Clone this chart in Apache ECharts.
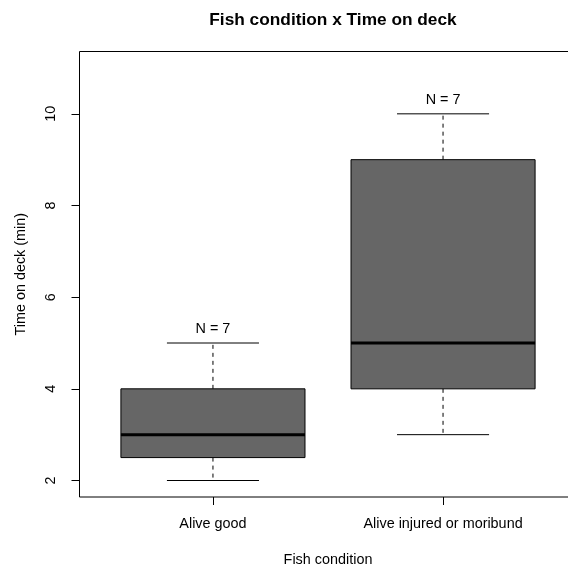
<!DOCTYPE html>
<html>
<head>
<meta charset="utf-8">
<script src="https://cdn.jsdelivr.net/npm/echarts@6/dist/echarts.min.js"></script>
<style>html,body{margin:0;padding:0;background:#fff}#c{width:568px;height:569px}</style>
</head>
<body>
<div id="c"></div>
<script>
const categories = ['Alive good', 'Alive injured or moribund'];
const whiskerLow = [2, 3];
const q1 = [2.5, 4];
const median = [3, 5];
const q3 = [4, 9];
const whiskerHigh = [5, 10];
const nLabels = ['N = 7', 'N = 7'];
const yTicks = [2, 4, 6, 8, 10];
const xTicks = [1, 2];

const font = 'Liberation Sans, Arial, sans-serif';
const data = categories.map((c, i) => [i + 1, whiskerLow[i], q1[i], median[i], q3[i], whiskerHigh[i]]);

const chart = echarts.init(document.getElementById('c'));
chart.setOption({
  backgroundColor: '#fff',
  animation: false,
  title: {
    text: 'Fish condition x Time on deck',
    left: 328, top: 7, textAlign: 'center',
    textStyle: {fontFamily: font, fontSize: 17.3, fontWeight: 'bold', color: '#000'}
  },
  grid: {left: 79.5, top: 51.5, width: 497, height: 445.5, show: true, borderColor: '#000', borderWidth: 1, backgroundColor: 'transparent', outerBoundsMode: 'none', containLabel: false},
  xAxis: {
    type: 'value', min: 0.42, max: 2.58,
    splitLine: {show: false},
    axisLine: {show: false},
    axisTick: {show: true, length: 8, lineStyle: {color: '#000'}, customValues: xTicks},
    axisLabel: {customValues: xTicks, formatter: v => categories[Math.round(v) - 1] || '', fontFamily: font, fontSize: 14.4, color: '#000', margin: 20},
    name: 'Fish condition', nameLocation: 'middle', nameGap: 56,
    nameTextStyle: {fontFamily: font, fontSize: 14.4, color: '#000'}
  },
  yAxis: {
    type: 'value', min: 1.64, max: 11.36,
    splitLine: {show: false},
    axisLine: {show: false},
    axisTick: {show: true, length: 8, lineStyle: {color: '#000'}, customValues: yTicks},
    axisLabel: {customValues: yTicks, rotate: 90, fontFamily: font, fontSize: 14.4, color: '#000', margin: 21, align: 'center', verticalAlign: 'bottom'},
    name: 'Time on deck (min)', nameLocation: 'middle', nameGap: 51, nameRotate: 90,
    nameTextStyle: {fontFamily: font, fontSize: 14.4, color: '#000'}
  },
  series: [{
    type: 'custom',
    data: data,
    clip: false,
    renderItem: function (params, api) {
      const x = api.value(0);
      const lo = api.value(1), a = api.value(2), m = api.value(3), b = api.value(4), hi = api.value(5);
      const bl = api.coord([x - 0.4, a]);
      const tr = api.coord([x + 0.4, b]);
      const ml = api.coord([x - 0.4, m]);
      const mr = api.coord([x + 0.4, m]);
      const cLo = api.coord([x, lo]);
      const cHi = api.coord([x, hi]);
      const cA = api.coord([x, a]);
      const cB = api.coord([x, b]);
      const sL = api.coord([x - 0.2, lo])[0];
      const sR = api.coord([x + 0.2, lo])[0];
      const lineStyle = {stroke: '#000', lineWidth: 1};
      return {
        type: 'group',
        children: [
          {type: 'line', shape: {x1: cB[0], y1: cB[1], x2: cHi[0], y2: cHi[1]}, style: {stroke: '#000', lineWidth: 1, lineDash: [4, 4]}},
          {type: 'line', shape: {x1: cA[0], y1: cA[1], x2: cLo[0], y2: cLo[1]}, style: {stroke: '#000', lineWidth: 1, lineDash: [4, 4]}},
          {type: 'line', shape: {x1: sL, y1: cHi[1], x2: sR, y2: cHi[1]}, style: lineStyle},
          {type: 'line', shape: {x1: sL, y1: cLo[1], x2: sR, y2: cLo[1]}, style: lineStyle},
          {type: 'rect', shape: {x: bl[0], y: tr[1], width: tr[0] - bl[0], height: bl[1] - tr[1]}, style: {fill: '#666666', stroke: '#000', lineWidth: 1}},
          {type: 'line', shape: {x1: ml[0], y1: ml[1], x2: mr[0], y2: mr[1]}, style: {stroke: '#000', lineWidth: 3}},
          {type: 'text', x: cHi[0], y: cHi[1] - 14, style: {text: nLabels[params.dataIndex], fill: '#000', font: '14.4px ' + font, align: 'center', verticalAlign: 'middle'}}
        ]
      };
    }
  }]
});
</script>
</body>
</html>
